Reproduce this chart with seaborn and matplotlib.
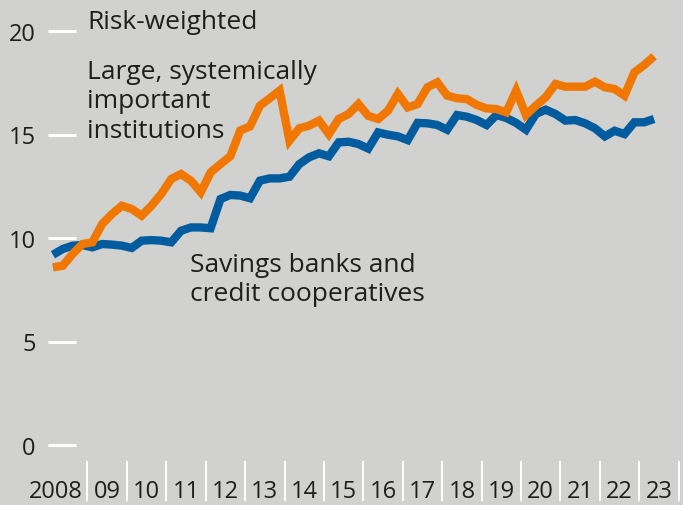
import numpy as np
import pandas as pd
import matplotlib
matplotlib.use("Agg")
import matplotlib.pyplot as plt
import matplotlib.transforms as mtransforms
import seaborn as sns

# ---------------- data ----------------
years = list(range(2008, 2024))
quarters = [(y, q) for y in years for q in range(1, 5)][:62]   # 2008Q1 .. 2023Q2

large_institutions = [
    8.58, 8.66, 9.23, 9.71, 9.79, 10.68, 11.16, 11.56, 11.40, 11.08,
    11.56, 12.13, 12.85, 13.09, 12.77, 12.21, 13.17, 13.57, 13.95, 15.19,
    15.39, 16.39, 16.75, 17.12, 14.70, 15.30, 15.43, 15.67, 15.02, 15.75,
    15.99, 16.47, 15.90, 15.75, 16.15, 16.96, 16.31, 16.47, 17.28, 17.52,
    16.88, 16.75, 16.71, 16.43, 16.26, 16.23, 16.07, 17.12, 15.94, 16.39,
    16.80, 17.44, 17.31, 17.31, 17.31, 17.55, 17.28, 17.20, 16.88, 18.00,
    18.36, 18.78,
]
savings_banks = [
    9.19, 9.47, 9.63, 9.66, 9.55, 9.71, 9.68, 9.63, 9.52, 9.87,
    9.90, 9.87, 9.79, 10.35, 10.51, 10.51, 10.47, 11.88, 12.08, 12.05,
    11.92, 12.77, 12.88, 12.88, 12.96, 13.57, 13.90, 14.09, 13.95, 14.62,
    14.65, 14.54, 14.32, 15.10, 14.99, 14.91, 14.73, 15.56, 15.54, 15.46,
    15.23, 15.94, 15.86, 15.70, 15.46, 15.94, 15.80, 15.56, 15.23, 15.99,
    16.20, 15.99, 15.67, 15.70, 15.54, 15.30, 14.91, 15.18, 15.02, 15.59,
    15.59, 15.75,
]
year_labels = ["2008", "09", "10", "11", "12", "13", "14", "15", "16",
               "17", "18", "19", "20", "21", "22", "23"]
y_ticks = [0, 5, 10, 15, 20]

series_names = ["Large, systemically\nimportant\ninstitutions",
                "Savings banks and\ncredit cooperatives"]
title_text = "Risk-weighted"

# ---------------- styling ----------------
BG = "#d1d1cf"
ORANGE = "#f07800"
BLUE = "#005c9e"
TXT = "#1e1e1e"
FS_TEXT = 19
FS_TICK = 17

sns.set_style("white")
plt.rcParams["font.family"] = ["Open Sans", "DejaVu Sans"]

t = [y + (q - 0.5) / 4 for (y, q) in quarters]
df = pd.DataFrame({
    "t": t * 2,
    "value": large_institutions + savings_banks,
    "series": ["large"] * len(t) + ["savings"] * len(t),
})

W, H = 683, 506
fig = plt.figure(figsize=(W / 100, H / 100), dpi=100, facecolor=BG)
ax = fig.add_axes([48 / W, (H - 462) / H, (678.7 - 48) / W, 462 / H])
ax.set_facecolor(BG)

sns.lineplot(data=df, x="t", y="value", hue="series",
             palette={"large": ORANGE, "savings": BLUE},
             hue_order=["savings", "large"],
             linewidth=6.0, legend=False, ax=ax)
for ln in ax.get_lines():
    ln.set_solid_joinstyle("miter")
    ln.set_solid_capstyle("butt")

ax.set_xlim(2008, 2024)
ax.set_ylim((446 - 462) / 20.7, 446 / 20.7)
ax.set_xlabel("")
ax.set_ylabel("")
for s in ax.spines.values():
    s.set_visible(False)

# y ticks: white inward lines
ax.set_yticks(y_ticks)
ax.set_yticklabels([str(v) for v in y_ticks])
ax.tick_params(axis="y", left=True, direction="in", length=20, width=2.2,
               color="white", pad=9, labelsize=FS_TICK, labelcolor=TXT)

# x: separators (major) and labels (minor)
ax.set_xticks(list(range(2009, 2025)))
ax.set_xticklabels([])
ax.set_xticks([y + 0.5 for y in years], minor=True)
ax.set_xticklabels(year_labels, minor=True)
ax.tick_params(axis="x", which="major", bottom=True, direction="out",
               length=29, width=1.5, color="white")
ax.tick_params(axis="x", which="minor", bottom=True, length=0, pad=13,
               labelsize=FS_TICK, labelcolor=TXT)
first = ax.get_xticklabels(minor=True)[0]
first.set_transform(first.get_transform() +
                    mtransforms.ScaledTranslation(-12 / 100, 0, fig.dpi_scale_trans))

# annotations
ax.text(2009.0, 20.45, title_text, fontsize=FS_TEXT, color=TXT,
        va="center", ha="left")
ax.text(2009.0, 16.62, series_names[0], fontsize=FS_TEXT, color=TXT,
        va="center", ha="left", linespacing=1.24)
ax.text(2011.6, 8.02, series_names[1], fontsize=FS_TEXT, color=TXT,
        va="center", ha="left", linespacing=1.24)

fig.savefig("out.png", dpi=100, facecolor=BG)
